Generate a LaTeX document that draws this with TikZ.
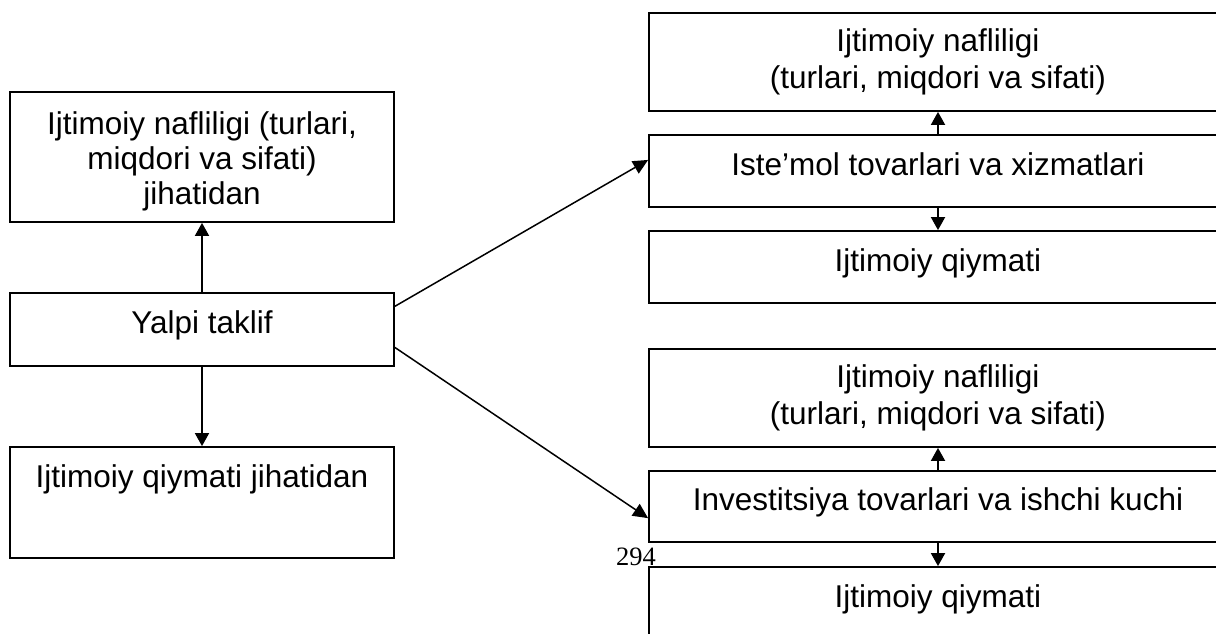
\documentclass[tikz,border=0pt]{standalone}
\usepackage{fontspec}
\setmainfont{Liberation Sans}
\newfontfamily\tnr{Liberation Serif}
\usetikzlibrary{arrows.meta,calc}
\begin{document}
\begin{tikzpicture}[x=1pt,y=-1pt,
  box/.style={draw=black,line width=1.8pt,rectangle,inner sep=0pt,align=center,
    font=\fontsize{31.5}{35}\selectfont},
  oneline/.style={text height=23pt,text depth=15pt},
  lbox/.style={box,minimum width=384pt},
  rbox/.style={box,minimum width=578pt,font=\fontsize{31.5}{37}\selectfont},
  varrow/.style={line width=1.8pt,-{Triangle[length=13pt,width=14pt]}},
  darrow/.style={line width=1.5pt,-{Triangle[length=15pt,width=14pt]}}
]
\useasboundingbox (0,0) rectangle (1216,634);
\clip (0,0) rectangle (1216,634);
\fill[white] (0,0) rectangle (1216,634);
% left column
\node[lbox,minimum height=130pt,text height=102pt,text depth=7pt] (a) at (202,157) {Ijtimoiy nafliligi (turlari,\\miqdori va sifati)\\jihatidan};
\node[lbox,oneline,minimum height=73pt] (y) at (202,329.5) {Yalpi taklif};
\node[lbox,minimum height=111pt,text height=22pt,text depth=53pt] (c) at (202,502.5) {Ijtimoiy qiymati jihatidan};
% right upper set
\node[rbox,minimum height=98pt] (r1) at (938,62) {Ijtimoiy nafliligi\\(turlari, miqdori va sifati)};
\node[rbox,oneline,minimum height=72pt] (r2) at (938,171) {Iste’mol tovarlari va xizmatlari};
\node[rbox,oneline,minimum height=72pt] (r3) at (938,267) {Ijtimoiy qiymati};
% right lower set
\node[rbox,minimum height=98pt] (s1) at (938,398) {Ijtimoiy nafliligi\\(turlari, miqdori va sifati)};
\node[rbox,oneline,minimum height=71pt] (s2) at (938,506.5) {Investitsiya tovarlari va ishchi kuchi};
\node[rbox,oneline,minimum height=72pt] (s3) at (938,603) {Ijtimoiy qiymati};
% page number
\node[font=\tnr\fontsize{26.5}{30}\selectfont,inner sep=0pt,anchor=base west] (pn) at (616,565) {294};
% connectors
\draw[varrow] (y.north) -- (a.south);
\draw[varrow] (y.south) -- (c.north);
\draw[varrow] (r2.north) -- (r1.south);
\draw[varrow] (r2.south) -- (r3.north);
\draw[varrow] (s2.north) -- (s1.south);
\draw[varrow] (s2.south) -- (s3.north);
\coordinate (yu) at ($(y.north east)!0.19!(y.south east)$);
\coordinate (yd) at ($(y.north east)!0.74!(y.south east)$);
\coordinate (r2w) at ($(r2.north west)!0.35!(r2.south west)$);
\coordinate (s2w) at ($(s2.north west)!0.66!(s2.south west)$);
\draw[darrow] (yu) -- (r2w);
\draw[darrow] (yd) -- (s2w);
\end{tikzpicture}
\end{document}
